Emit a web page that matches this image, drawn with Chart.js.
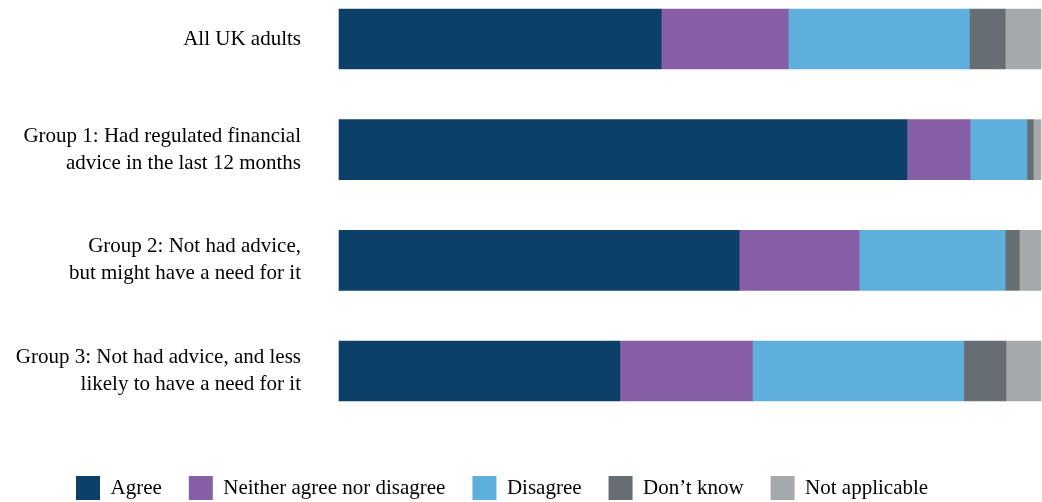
<!DOCTYPE html>
<html>
<head>
<meta charset="utf-8">
<title>Agreement by advice group</title>
<script src="https://cdn.jsdelivr.net/npm/chart.js@4"></script>
<style>
    html, body { margin: 0; padding: 0; background: #ffffff; overflow: hidden; }
    .chart-box { position: relative; width: 1042px; height: 510px; }
</style>
</head>
<body>
<div class="chart-box">
    <canvas id="adviceChart"></canvas>
</div>
<script>
// Chart data (percent of each group)
const categories = [
    'All UK adults',
    ['Group 1: Had regulated financial', 'advice in the last 12 months'],
    ['Group 2: Not had advice,', 'but might have a need for it'],
    ['Group 3: Not had advice, and less', 'likely to have a need for it']
];
const seriesNames = ['Agree', 'Neither agree nor disagree', 'Disagree', 'Don\u2019t know', 'Not applicable'];
const agree = [45.9, 80.9, 57.0, 40.0];
const neither = [18.1, 9.0, 17.1, 18.9];
const disagree = [25.8, 8.1, 20.8, 30.1];
const dontKnow = [5.1, 0.9, 2.0, 6.0];
const notApplicable = [5.1, 1.1, 3.1, 5.0];
const seriesColors = ['#0d4069', '#875fa7', '#5eafdc', '#666d73', '#a6a9ac'];

// The legend starts further right than the category labels, so the y axis box is
// narrower than its labels; widen the label clip area once the layout is done.
const labelRoom = {
    id: 'labelRoom',
    afterLayout(chart) {
        chart.scales.y.left = 0;
    }
};

class AdviceChart {
    constructor() {
        this.chart = null;
        this.init();
    }

    init() {
        const ctx = document.getElementById('adviceChart').getContext('2d');
        const values = [agree, neither, disagree, dontKnow, notApplicable];
        const font = { family: '"Liberation Serif", "Times New Roman", serif', size: 21, lineHeight: 1.3 };

        this.chart = new Chart(ctx, {
            type: 'bar',
            data: {
                labels: categories,
                datasets: seriesNames.map((name, i) => ({
                    label: name,
                    data: values[i],
                    backgroundColor: seriesColors[i],
                    borderWidth: 0,
                    barThickness: 60,
                    clip: false
                }))
            },
            options: {
                indexAxis: 'y',
                responsive: true,
                maintainAspectRatio: false,
                animation: false,
                layout: {
                    padding: { top: 39, left: 49, right: 1, bottom: 0 }
                },
                plugins: {
                    tooltip: { enabled: false },
                    legend: {
                        position: 'bottom',
                        align: 'start',
                        labels: {
                            color: '#000000',
                            font: font,
                            boxWidth: 24,
                            boxHeight: 24,
                            padding: 27
                        }
                    }
                },
                scales: {
                    x: {
                        stacked: true,
                        min: 0,
                        max: 100,
                        ticks: { display: false },
                        grid: { display: false },
                        border: { display: false },
                        // spacer between the bars and the legend
                        afterFit: (scale) => {
                            scale.height = 78;
                            scale.paddingLeft = 0;
                            scale.paddingRight = 0;
                        }
                    },
                    y: {
                        stacked: true,
                        offset: false,
                        ticks: {
                            color: '#000000',
                            font: font,
                            padding: 30,
                            autoSkip: false
                        },
                        grid: { display: false },
                        border: { display: false },
                        afterFit: (scale) => {
                            scale.width = 290;
                            scale.paddingTop = 0;
                            scale.paddingBottom = 0;
                        }
                    }
                }
            },
            plugins: [labelRoom]
        });
    }
}

document.addEventListener('DOMContentLoaded', () => {
    new AdviceChart();
});
</script>
</body>
</html>
